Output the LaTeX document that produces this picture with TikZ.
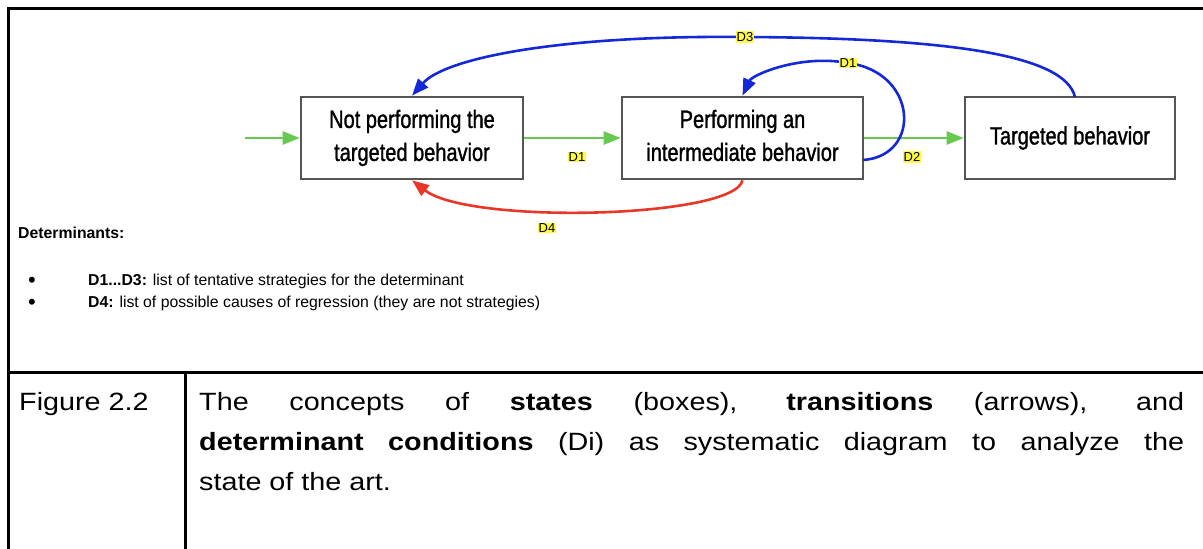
\documentclass[tikz,border=0pt]{standalone}
\usepackage{fontspec}
\setmainfont{Liberation Sans}
\newfontfamily\boxfont[FakeStretch=0.8,FakeBold=1.2]{Liberation Sans}
\newfontfamily\capfont[FakeStretch=1.15]{Liberation Sans}
\usetikzlibrary{arrows.meta}
\definecolor{grn}{RGB}{104,200,80}
\definecolor{blu}{RGB}{20,40,215}
\definecolor{rd}{RGB}{230,55,40}
\definecolor{hl}{RGB}{255,250,70}
\definecolor{bx}{RGB}{85,85,85}
\tikzset{
  statebox/.style={draw=bx,line width=2.6pt,fill=white,minimum height=82pt,align=center,
    font=\boxfont\fontsize{25}{32}\selectfont,inner sep=0pt},
  dlabel/.style={fill=hl,inner sep=1pt,font=\fontsize{13}{13}\selectfont},
  tip/.style={-{Triangle[length=17pt,width=13pt]}},
  garrow/.style={tip,draw=grn,line width=2.6pt},
  barrow/.style={tip,draw=blu,line width=2.6pt},
  rarrow/.style={tip,draw=rd,line width=2.6pt},
  frame/.style={line width=3pt,black},
  txt/.style={anchor=base west,inner sep=0pt,font=\fontsize{15.8}{18}\selectfont}
}
\begin{document}
\begin{tikzpicture}[x=1pt,y=-1pt]
\useasboundingbox (0,0) rectangle (1203,549);
% frame
\draw[frame] (8,549) -- (8,8) -- (1203,8);
\draw[frame] (8,372) -- (1203,372);
\draw[frame] (185,372) -- (185,549);
% states
\node[statebox,minimum width=222pt] (b1) at (412,138) {\raisebox{-3pt}{\begin{tabular}{@{}c@{}}Not performing the\\[1pt]targeted behavior\end{tabular}}};
\node[statebox,minimum width=241pt] (b2) at (742.5,138) {\raisebox{-3pt}{\begin{tabular}{@{}c@{}}Performing an\\[1pt]intermediate behavior\end{tabular}}};
\node[statebox,minimum width=210pt] (b3) at (1070,138) {Targeted behavior};
\coordinate (s) at (245,138);
% green transitions
\draw[garrow] (s) -- (b1.west);
\draw[garrow] (b1.east) -- (b2.west);
\draw[garrow] (b2.east) -- (b3.west);
\node[dlabel] (l1) at (577,157) {D1};
\node[dlabel] (l2) at (912,157) {D2};
% D3
\coordinate (d3) at (745,37);
\coordinate (t3) at (1075,97);
\draw[barrow] (t3) .. controls (1065,55) and (950,38) .. (d3)
   .. controls (560,35) and (445,58) .. (b1.north);
\node[dlabel] (l3) at (d3) {D3};
% D1 loop
\coordinate (d1) at (848,63);
\coordinate (r2) at (863,160);
\draw[barrow] (r2) .. controls (922,156) and (918,72) .. (d1)
   .. controls (800,54) and (752,75) .. (b2.north);
\node[dlabel] (l1b) at (d1) {D1};
% D4
\draw[rarrow] (b2.south) .. controls (735,218) and (470,225) .. (b1.south);
\node[dlabel] (l4) at (547,228) {D4};
% determinants
\node[txt,font=\bfseries\fontsize{15.8}{18}\selectfont] (det) at (18,238) {Determinants:};
\node[txt,font=\fontsize{22}{22}\selectfont] (bu1) at (28,287) {\textbullet};
\node[txt] (i1) at (88,285) {\textbf{D1...D3:} list of tentative strategies for the determinant};
\node[txt,font=\fontsize{22}{22}\selectfont] (bu2) at (28,309) {\textbullet};
\node[txt] (i2) at (88,307) {\textbf{D4:} list of possible causes of regression (they are not strategies)};
% caption
\node[anchor=base west,inner sep=0pt,font=\capfont\fontsize{25}{40}\selectfont] (fig) at (19,410) {Figure 2.2};
\node[anchor=base west,inner sep=0pt,font=\capfont\fontsize{25}{40}\selectfont,text width=985pt,align=justify] (cap) at (199,410)
 {\strut The concepts of \textbf{states} (boxes), \textbf{transitions} (arrows), and\linebreak
  \textbf{determinant conditions} (Di) as systematic diagram to analyze the\linebreak
  state of the art.};
\end{tikzpicture}
\end{document}
